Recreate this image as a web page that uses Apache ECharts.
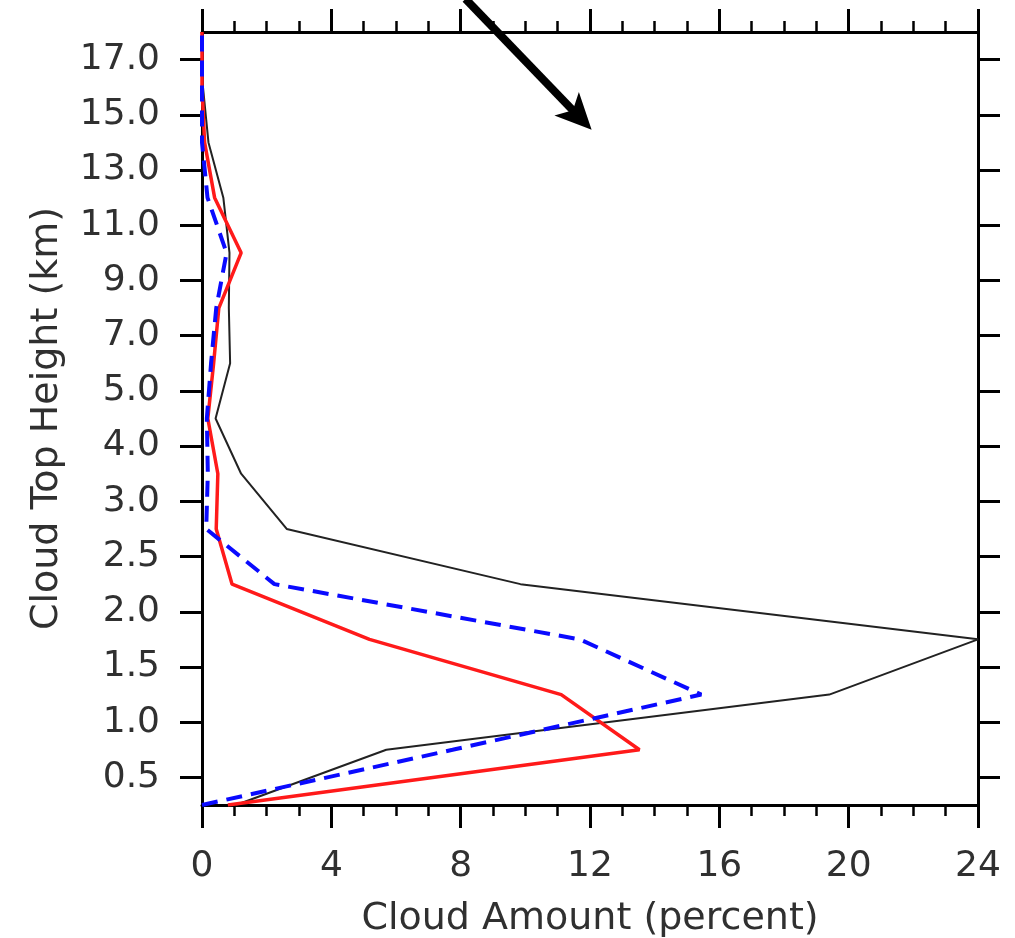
<!DOCTYPE html>
<html>
<head>
<meta charset="utf-8">
<script src="https://cdn.jsdelivr.net/npm/echarts@6/dist/echarts.min.js"></script>
<style>
  html, body { margin: 0; padding: 0; background: #fff; }
  #chart { width: 1015px; height: 938px; }
</style>
</head>
<body>
<div id="chart"></div>
<script>
// Height-axis tick labels (km), bottom to top; the axis is stretched so each label gets an equal band.
const heightLabels = ['0.5', '1.0', '1.5', '2.0', '2.5', '3.0', '4.0', '5.0', '7.0', '9.0', '11.0', '13.0', '15.0', '17.0'];
// Level positions on the stretched axis: level k sits on the boundary between bands k-1 and k.
const levelPos = [0, 1, 2, 3, 4, 5, 6, 7, 8, 9, 10, 11, 12, 13, 14];

// Cloud amount (percent) per level, bottom to top.
const blackAmount = [1.05, 5.7, 19.4, 24.0, 9.85, 2.62, 1.21, 0.42, 0.87, 0.83, 0.85, 0.66, 0.20, 0.03, 0.0];
const redAmount   = [0.8, 13.53, 11.11, 5.18, 0.93, 0.44, 0.49, 0.18, 0.36, 0.52, 1.21, 0.39, 0.08, 0.0, 0.0];
const blueAmount  = [0.0, 7.75, 15.44, 11.68, 2.24, 0.13, 0.18, 0.15, 0.28, 0.44, 0.76, 0.17, 0.0, 0.0, 0.0];

// Amount-axis settings
const amountMax = 24;
const amountStep = 4;

// Annotation arrow endpoints in data space [amount, level position]
const ARROW_FROM = [8.15, 14.6];
const ARROW_TO = [12.05, 12.23];

const FONT = 'DejaVu Sans';
const TEXT = '#303030';

function pairs(values) {
  return values.map((v, i) => [v, levelPos[i]]);
}

const chart = echarts.init(document.getElementById('chart'));

const xCommon = {
  type: 'value',
  min: 0,
  max: amountMax,
  interval: amountStep,
  splitLine: { show: false },
  axisLine: { show: true, onZero: false, lineStyle: { color: '#000', width: 3 } },
  axisTick: { show: true, inside: false, length: 23, lineStyle: { color: '#000', width: 3 } },
  minorTick: { show: true, splitNumber: 4, length: 11, lineStyle: { color: '#000', width: 2.5 } },
  minorSplitLine: { show: false }
};

const yCat = {
  type: 'category',
  data: heightLabels,
  boundaryGap: true,
  splitLine: { show: false },
  axisLine: { show: true, onZero: false, lineStyle: { color: '#000', width: 3 } },
  axisTick: { show: true, inside: false, alignWithLabel: true, length: 22, lineStyle: { color: '#000', width: 3 } }
};

chart.setOption({
  backgroundColor: '#fff',
  animation: false,
  grid: { left: 202, right: 37, top: 32, bottom: 133, containLabel: false, outerBoundsMode: 'none' },
  xAxis: [
    Object.assign({}, xCommon, {
      position: 'bottom',
      name: 'Cloud Amount (percent)',
      nameLocation: 'middle',
      nameGap: 95,
      nameTextStyle: { fontFamily: FONT, fontSize: 38, color: TEXT },
      axisLabel: { show: true, margin: 44, fontFamily: FONT, fontSize: 36, color: TEXT }
    }),
    Object.assign({}, xCommon, {
      position: 'top',
      axisLabel: { show: false }
    })
  ],
  yAxis: [
    Object.assign({}, yCat, {
      position: 'left',
      name: 'Cloud Top Height (km)',
      nameLocation: 'middle',
      nameRotate: 90,
      nameGap: 136,
      nameTextStyle: { fontFamily: FONT, fontSize: 38, color: TEXT },
      axisLabel: { show: true, margin: 42, fontFamily: FONT, fontSize: 36, color: TEXT }
    }),
    Object.assign({}, yCat, {
      position: 'right',
      axisLabel: { show: false }
    }),
    {
      type: 'value',
      min: 0,
      max: levelPos[levelPos.length - 1],
      show: false
    }
  ],
  series: [
    {
      type: 'line',
      xAxisIndex: 0,
      yAxisIndex: 2,
      data: pairs(blackAmount),
      showSymbol: false,
      symbol: 'none',
      lineStyle: { color: '#222', width: 2 },
      z: 3
    },
    {
      type: 'line',
      xAxisIndex: 0,
      yAxisIndex: 2,
      data: pairs(redAmount),
      showSymbol: false,
      symbol: 'none',
      lineStyle: { color: '#ff1a1a', width: 3.5 },
      z: 4
    },
    {
      type: 'line',
      xAxisIndex: 0,
      yAxisIndex: 2,
      data: pairs(blueAmount),
      showSymbol: false,
      symbol: 'none',
      lineStyle: { color: '#0a0aff', width: 4, type: [16, 9] },
      z: 5
    }
  ]
});

// Annotation arrow, placed through the chart's own coordinate conversion.
function drawArrow() {
  const p0 = chart.convertToPixel({ xAxisIndex: 0, yAxisIndex: 2 }, ARROW_FROM);
  const p1 = chart.convertToPixel({ xAxisIndex: 0, yAxisIndex: 2 }, ARROW_TO);
  const dx = p1[0] - p0[0], dy = p1[1] - p0[1];
  const len = Math.sqrt(dx * dx + dy * dy);
  const ux = dx / len, uy = dy / len;
  const nx = -uy, ny = ux;
  const headLen = 36, headHalf = 17, notch = 9;
  const base = [p1[0] - ux * headLen, p1[1] - uy * headLen];
  const notchPt = [p1[0] - ux * (headLen - notch), p1[1] - uy * (headLen - notch)];
  chart.setOption({
    graphic: [
      {
        type: 'line',
        id: 'arrowShaft',
        z: 100,
        shape: { x1: p0[0], y1: p0[1], x2: notchPt[0] + ux * 4, y2: notchPt[1] + uy * 4 },
        style: { stroke: '#000', lineWidth: 8 }
      },
      {
        type: 'polygon',
        id: 'arrowHead',
        z: 101,
        shape: {
          points: [
            [p1[0], p1[1]],
            [base[0] + nx * headHalf, base[1] + ny * headHalf],
            notchPt,
            [base[0] - nx * headHalf, base[1] - ny * headHalf]
          ]
        },
        style: { fill: '#000' }
      }
    ]
  });
}
drawArrow();
</script>
</body>
</html>
